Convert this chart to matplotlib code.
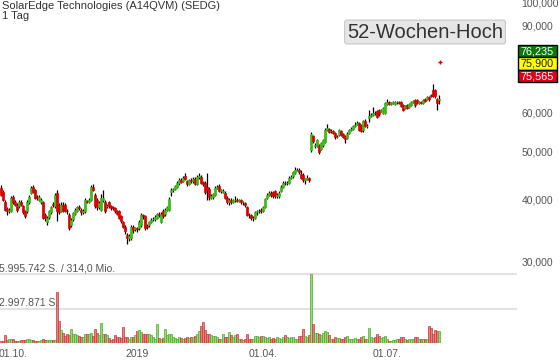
import numpy as np
import pandas as pd
import matplotlib
matplotlib.use("Agg")
import matplotlib.pyplot as plt
from matplotlib.patches import Rectangle
from matplotlib.ticker import FixedLocator, FuncFormatter, NullLocator

plt.rcParams['font.family'] = ['Liberation Sans', 'DejaVu Sans']

# ----------------------
# Data
# ----------------------
title = "SolarEdge Technologies (A14QVM) (SEDG)"
period = "1 Tag"
start_date = "2018-09-21"
holidays = ["2018-12-24", "2018-12-25", "2018-12-26", "2018-12-31",
            "2019-01-01", "2019-04-19", "2019-04-22", "2019-05-01"]

opens = [
    42.3, 41.5, 39.6, 38.3, 38.0, 37.9, 40.5, 39.6, 39.1, 38.8,
    39.5, 38.8, 37.9, 37.9, 39.5, 41.3, 42.5, 41.9, 40.5, 40.0,
    39.6, 39.5, 37.3, 36.0, 36.9, 37.8, 39.2, 38.8, 41.3, 39.0,
    37.9, 39.1, 39.0, 38.0, 37.3, 35.6, 36.5, 37.5, 38.0, 38.7,
    38.2, 37.7, 37.9, 39.7, 39.6, 40.0, 42.5, 40.9, 40.0, 38.6,
    38.2, 39.9, 39.6, 38.8, 39.5, 38.8, 38.6, 38.4, 37.9, 37.9,
    37.0, 36.0, 35.3, 34.0, 33.4, 33.5, 35.3, 34.9, 35.0, 35.1,
    35.6, 37.2, 37.1, 35.4, 35.6, 36.1, 36.5, 36.6, 36.8, 37.4,
    36.1, 37.9, 37.4, 38.2, 38.2, 41.4, 41.9, 42.0, 42.5, 43.2,
    43.9, 43.7, 44.7, 43.6, 43.1, 43.8, 43.6, 44.1, 43.1, 44.4,
    44.5, 43.4, 43.3, 42.5, 42.1, 40.4, 40.5, 40.9, 42.3, 42.7,
    41.7, 41.5, 41.3, 40.4, 39.5, 40.0, 39.6, 39.9, 40.0, 39.8,
    39.9, 39.5, 39.4, 38.6, 37.3, 37.2, 36.8, 36.8, 37.7, 37.9,
    38.1, 38.0, 38.6, 40.4, 40.9, 41.3, 41.4, 41.6, 40.7, 40.7,
    41.7, 42.5, 43.3, 43.2, 43.3, 44.3, 44.6, 45.3, 46.0, 46.0,
    45.0, 44.9, 43.9, 44.0, 44.3, 50.4, 53.8, 51.3, 51.3, 51.6,
    50.6, 51.5, 52.4, 55.4, 55.6, 55.0, 55.0, 54.6, 53.5, 54.1,
    55.0, 54.2, 53.7, 53.3, 54.6, 55.3, 55.6, 56.4, 56.8, 57.2,
    56.7, 55.2, 57.6, 56.3, 58.5, 59.0, 59.4, 60.0, 60.3, 60.8,
    60.5, 60.0, 60.0, 62.5, 63.1, 62.4, 62.7, 62.3, 62.9, 62.9,
    62.9, 62.0, 61.3, 62.2, 61.6, 62.2, 62.9, 63.6, 63.6, 62.7,
    62.9, 62.8, 63.9, 63.9, 64.5, 65.2, 66.6, 66.5, 63.9, 63.5,
]
highs = [
    42.8, 41.9, 39.9, 38.6, 38.5, 40.6, 40.9, 40.0, 39.4, 40.0,
    39.9, 39.0, 38.2, 39.9, 40.8, 42.7, 42.9, 42.1, 40.8, 40.9,
    40.3, 39.8, 37.6, 37.0, 38.2, 38.9, 39.5, 41.2, 41.8, 39.3,
    39.5, 39.6, 39.3, 38.3, 37.6, 36.7, 37.8, 38.5, 38.9, 39.0,
    38.4, 38.3, 40.3, 40.0, 40.3, 42.9, 43.0, 41.2, 40.3, 39.7,
    41.0, 41.9, 39.9, 39.2, 39.7, 39.1, 38.9, 38.6, 38.1, 38.1,
    37.2, 36.3, 35.5, 34.2, 34.1, 35.5, 35.6, 35.3, 35.3, 36.4,
    37.6, 37.5, 37.3, 35.7, 36.3, 36.7, 36.9, 37.2, 37.6, 37.7,
    37.7, 38.3, 38.5, 38.9, 40.5, 42.2, 42.3, 42.9, 43.6, 44.2,
    44.2, 44.6, 45.2, 43.9, 44.1, 44.2, 44.4, 44.4, 44.8, 45.2,
    44.9, 43.7, 43.6, 45.3, 42.4, 41.0, 41.3, 42.6, 42.9, 43.0,
    42.1, 42.0, 41.6, 40.7, 40.3, 40.3, 40.2, 40.6, 40.3, 40.1,
    40.2, 39.8, 39.6, 38.9, 37.6, 37.4, 37.1, 37.9, 38.2, 38.3,
    38.4, 38.9, 40.4, 41.2, 41.6, 41.6, 41.7, 41.9, 41.2, 41.6,
    42.8, 43.6, 43.7, 43.7, 44.6, 44.8, 45.8, 46.5, 46.4, 46.3,
    46.0, 45.2, 44.3, 44.8, 44.5, 54.8, 54.0, 52.0, 53.1, 51.9,
    52.4, 53.1, 55.8, 56.8, 55.9, 55.5, 55.3, 54.9, 54.0, 55.7,
    55.3, 54.5, 54.0, 54.7, 55.6, 56.0, 56.7, 57.3, 57.8, 57.5,
    57.0, 58.0, 58.2, 56.8, 60.6, 59.8, 61.5, 60.4, 60.6, 61.1,
    61.0, 61.6, 63.0, 63.8, 63.4, 63.0, 63.3, 63.2, 63.3, 63.2,
    63.2, 62.3, 62.2, 62.5, 62.8, 63.2, 63.7, 63.9, 63.9, 63.2,
    63.3, 64.0, 64.2, 64.8, 64.8, 65.5, 68.6, 66.9, 64.3, 65.0,
]
lows = [
    40.6, 39.8, 37.9, 37.3, 37.6, 37.7, 39.2, 38.8, 37.7, 38.5,
    38.8, 37.4, 36.7, 37.6, 39.2, 41.0, 41.2, 40.1, 39.9, 39.7,
    39.2, 36.5, 36.3, 35.5, 36.6, 37.5, 38.7, 38.5, 36.2, 37.5,
    37.7, 37.8, 37.7, 37.5, 34.7, 35.3, 36.2, 37.2, 37.8, 38.2,
    37.3, 37.4, 37.6, 39.3, 39.3, 39.8, 41.6, 38.5, 38.2, 38.3,
    37.9, 39.6, 37.6, 38.5, 38.5, 38.1, 38.1, 37.6, 37.2, 36.5,
    35.9, 35.0, 34.1, 32.5, 33.0, 33.2, 34.2, 34.5, 34.4, 34.8,
    35.3, 36.6, 34.8, 34.9, 35.3, 35.8, 36.2, 36.3, 36.5, 36.9,
    35.9, 36.8, 37.1, 37.9, 37.9, 40.6, 41.4, 41.8, 42.2, 42.9,
    43.2, 43.4, 43.8, 42.7, 42.8, 43.2, 43.3, 42.8, 42.9, 44.0,
    43.0, 42.6, 41.1, 39.9, 40.0, 40.1, 40.2, 40.6, 42.0, 41.4,
    41.3, 41.2, 40.1, 39.2, 39.1, 39.2, 39.4, 39.6, 39.5, 39.5,
    39.2, 39.1, 38.7, 37.0, 36.8, 36.4, 36.3, 36.5, 37.3, 37.6,
    37.6, 37.8, 38.4, 40.1, 40.6, 40.5, 40.3, 40.4, 40.4, 40.4,
    41.4, 42.2, 42.8, 42.9, 43.0, 44.0, 44.3, 45.0, 45.6, 45.1,
    44.0, 43.4, 43.0, 43.8, 43.5, 50.0, 52.0, 50.9, 51.0, 49.5,
    50.3, 51.2, 52.1, 55.1, 54.5, 54.6, 54.2, 53.0, 53.2, 53.8,
    53.7, 53.2, 52.1, 53.0, 54.3, 55.0, 55.3, 56.1, 56.5, 55.0,
    54.7, 54.9, 56.0, 55.8, 57.3, 58.7, 59.1, 59.3, 58.4, 59.0,
    60.1, 59.7, 59.7, 62.2, 62.0, 62.0, 62.3, 62.0, 62.4, 62.3,
    61.5, 60.3, 61.0, 61.0, 61.3, 61.9, 62.6, 61.6, 62.3, 62.4,
    62.4, 62.5, 62.9, 63.6, 63.4, 64.5, 64.5, 64.3, 60.8, 62.3,
]
closes = [
    40.9, 40.0, 38.2, 38.0, 38.2, 40.3, 39.5, 39.1, 38.2, 39.6,
    39.1, 37.7, 37.0, 39.6, 40.5, 42.3, 41.5, 40.4, 40.4, 40.5,
    40.0, 36.8, 36.8, 36.8, 37.9, 38.6, 39.0, 40.9, 37.9, 37.8,
    39.1, 38.0, 38.0, 37.9, 35.1, 36.4, 37.6, 38.2, 38.6, 38.5,
    37.7, 38.0, 40.0, 39.6, 40.0, 42.5, 41.9, 38.9, 38.6, 39.4,
    40.4, 40.3, 37.9, 38.9, 38.8, 38.4, 38.4, 37.9, 37.5, 36.8,
    36.2, 35.3, 34.5, 33.5, 33.8, 35.3, 34.8, 35.0, 34.9, 36.1,
    37.3, 37.0, 35.1, 35.3, 36.0, 36.4, 36.6, 36.9, 37.4, 37.2,
    37.4, 37.1, 38.2, 38.6, 40.2, 41.9, 42.0, 42.6, 43.3, 43.9,
    43.5, 44.3, 44.1, 43.0, 43.8, 43.6, 44.1, 43.1, 44.4, 44.6,
    43.3, 43.0, 41.5, 41.9, 40.5, 40.7, 41.0, 42.3, 42.5, 41.7,
    41.8, 41.7, 40.4, 39.5, 40.0, 39.5, 39.9, 40.0, 39.8, 39.9,
    39.5, 39.5, 39.0, 37.3, 37.2, 36.8, 36.8, 37.7, 38.0, 38.0,
    37.9, 38.6, 40.2, 40.9, 41.3, 40.8, 40.6, 40.7, 40.9, 41.3,
    42.5, 43.3, 43.2, 43.3, 44.3, 44.5, 45.5, 46.0, 46.0, 45.4,
    44.3, 43.9, 44.0, 44.3, 43.9, 54.3, 52.5, 51.6, 52.8, 49.9,
    52.1, 52.8, 55.4, 55.9, 54.9, 55.1, 54.6, 53.5, 53.6, 55.4,
    54.1, 53.6, 53.0, 54.4, 55.3, 55.6, 56.4, 56.6, 57.1, 55.4,
    55.1, 57.6, 56.3, 56.4, 59.0, 59.4, 60.0, 59.8, 58.9, 59.5,
    60.7, 61.3, 62.7, 63.1, 62.4, 62.7, 62.9, 62.9, 62.9, 62.7,
    61.9, 60.8, 61.9, 61.4, 62.5, 62.9, 63.4, 62.2, 62.7, 62.9,
    62.8, 63.7, 63.2, 64.5, 63.8, 64.9, 64.9, 64.8, 62.7, 64.0,
]
# volume in million shares
volumes = [
    0.15, 0.15, 0.68, 0.24, 0.32, 0.38, 0.38, 0.21, 0.15, 0.18,
    0.29, 0.29, 0.24, 0.32, 0.32, 0.29, 0.24, 0.21, 0.15, 0.15,
    0.29, 0.32, 0.29, 0.24, 0.29, 0.29, 0.29, 0.29, 4.41, 1.91,
    1.12, 0.91, 0.59, 0.82, 0.68, 1.18, 0.74, 0.74, 0.68, 0.59,
    0.53, 0.53, 0.82, 0.82, 0.82, 0.88, 0.59, 1.21, 0.88, 0.68,
    1.71, 0.82, 0.74, 0.68, 0.44, 0.29, 0.38, 0.68, 0.53, 0.53,
    0.44, 1.41, 0.53, 0.53, 0.38, 0.53, 0.53, 0.68, 1.03, 1.12,
    0.97, 0.82, 0.74, 0.76, 0.76, 0.68, 0.53, 0.38, 1.62, 0.44,
    0.38, 0.44, 1.21, 0.68, 0.74, 0.76, 0.53, 0.44, 0.38, 0.53,
    0.44, 0.38, 0.47, 0.53, 0.44, 0.53, 0.53, 0.59, 0.74, 1.03,
    1.50, 1.85, 1.12, 0.82, 0.74, 0.68, 0.62, 0.59, 0.53, 0.38,
    0.38, 0.74, 0.53, 0.53, 0.97, 0.68, 0.53, 0.68, 0.76, 0.38,
    0.32, 0.24, 0.38, 0.82, 0.38, 0.32, 0.38, 0.59, 0.59, 0.53,
    0.59, 0.59, 0.53, 0.44, 0.53, 0.38, 0.44, 0.38, 0.53, 0.44,
    0.32, 0.53, 0.68, 0.53, 0.44, 0.53, 0.53, 0.32, 0.38, 0.59,
    0.59, 1.18, 0.59, 0.53, 0.68, 5.996, 1.65, 0.91, 0.91, 0.76,
    0.68, 0.88, 1.03, 0.97, 0.68, 0.32, 0.38, 0.50, 0.44, 0.44,
    0.38, 0.32, 0.53, 0.59, 0.38, 0.38, 0.38, 0.44, 0.38, 0.38,
    0.53, 0.59, 0.38, 0.32, 1.29, 0.53, 0.44, 0.53, 0.74, 0.59,
    0.44, 0.53, 0.59, 0.38, 0.21, 0.21, 0.24, 0.24, 0.32, 0.32,
    0.53, 0.53, 0.32, 0.24, 0.32, 0.38, 0.38, 0.53, 0.53, 0.38,
    0.32, 0.38, 0.38, 0.32, 1.47, 1.26, 0.82, 1.12, 1.03, 1.03,
]

tick_dates = ["2018-10-01", "2019-01-01", "2019-04-01", "2019-07-01"]
tick_labels = ["01.10.", "2019", "01.04.", "01.07."]
# 70 and 80 sit behind the quote boxes in the original, so they are left out
price_ticks = [30, 40, 50, 60, 90, 100]
quote_values = [76.235, 75.900, 75.565]   # bid / last / ask
quote_colors = ["#0b7a0b", "#ffff00", "#e2001a"]
quote_text = ["white", "#222222", "white"]
last_price = 75.9
vol_max = 5995742
turnover = "314,0 Mio."

assert len(opens) == len(highs) == len(lows) == len(closes) == len(volumes)

# ----------------------
# Prepare
# ----------------------
o = np.array(opens)
h = np.array(highs)
l = np.array(lows)
c = np.array(closes)
v = np.array(volumes)
n = len(c)
x = np.arange(n)
dates = pd.bdate_range(start_date, periods=n, freq="C", holidays=holidays)
tick_pos = [dates.searchsorted(pd.Timestamp(d)) for d in tick_dates]

up = c >= o
body_col = np.where(up, "#3dbb17", "#dd0000")
vol_face = np.where(up, "#93dd73", "#ef7b7b")
vol_edge = np.where(up, "#52a832", "#c23b3b")


def de_num(val):
    return f"{val:.3f}".replace(".", ",")


def de_int(val):
    return f"{val:,}".replace(",", ".")


W, H = 560, 363
fig = plt.figure(figsize=(W / 100, H / 100), dpi=100)
ax = fig.add_axes([0, 1 - 274 / H, 516 / W, 274 / H])
axv = fig.add_axes([0, 20 / H, 516 / W, 69 / H])

# ----------------------
# Price panel (candles)
# ----------------------
ax.set_yscale("log")
ax.vlines(x, l, h, color="black", lw=0.9, zorder=1)
ax.bar(x, np.abs(c - o), bottom=np.minimum(o, c), width=0.85,
       color=body_col, edgecolor=body_col, lw=0.5, zorder=2)
ax.plot([n - 0.5], [last_price], marker="+", color="#dd0000", ms=3, mew=1)

ax.set_xlim(-0.5, 257.5)
ax.set_ylim(28.3, 101.3)
ax.yaxis.tick_right()
ax.yaxis.set_major_locator(FixedLocator(price_ticks))
ax.yaxis.set_minor_locator(NullLocator())
ax.yaxis.set_major_formatter(FuncFormatter(lambda val, pos: de_num(val)))
ax.tick_params(axis="y", length=0, pad=4, labelsize=7.5, labelcolor="#555555")
ax.set_xticks([])
for s in ax.spines.values():
    s.set_visible(False)

# ----------------------
# Volume panel
# ----------------------
vtop = vol_max / 1e6
axv.bar(x, v, width=0.85, color=vol_face, edgecolor=vol_edge, lw=0.5, zorder=2)
for gy in (vtop / 2, vtop):
    axv.axhline(gy, color="#e2e2e2", lw=1.5, zorder=0, clip_on=False)
axv.set_xlim(-0.5, 257.5)
axv.set_ylim(0, vtop)
axv.set_yticks([])
axv.set_xticks(tick_pos)
axv.set_xticklabels(tick_labels)
axv.tick_params(axis="x", length=0, pad=4.5, labelsize=7.5, labelcolor="#555555")
for s in axv.spines.values():
    s.set_visible(False)

axv.annotate(de_int(vol_max) + " S. / " + turnover, xy=(-1.2, vtop),
             xytext=(0, 2), textcoords="offset points", va="baseline",
             fontsize=7.5, color="#555555", annotation_clip=False)
axv.annotate(de_int(round(vol_max / 2)) + " S.", xy=(-1.2, vtop / 2),
             xytext=(0, 2), textcoords="offset points", va="baseline",
             fontsize=7.5, color="#555555", annotation_clip=False)

# ----------------------
# Header and labels
# ----------------------
fig.text(2 / W, 1 - 6 / H, title, va="center", fontsize=8, color="#333333")
fig.text(2 / W, 1 - 16 / H, period, va="center", fontsize=8, color="#333333")
fig.text(425 / W, 1 - 32 / H, "52-Wochen-Hoch", ha="center", va="center",
         fontsize=14.5, color="#333333",
         bbox=dict(boxstyle="round,pad=0.12", fc="#e6e6e6", ec="#c8c8c8", lw=0.8))

# quote boxes
for k, (qv, qc, qt) in enumerate(zip(quote_values, quote_colors, quote_text)):
    top = 45 + k * 12.4
    fig.patches.append(Rectangle((518 / W, 1 - (top + 12.4) / H), 39 / W, 12.4 / H,
                                 transform=fig.transFigure, fc=qc, ec="black",
                                 lw=1, zorder=5))
    fig.text(537.5 / W, 1 - (top + 6.4) / H, de_num(qv), ha="center", va="center",
             fontsize=7.8, color=qt, zorder=6)

fig.savefig("out.png", dpi=100)
